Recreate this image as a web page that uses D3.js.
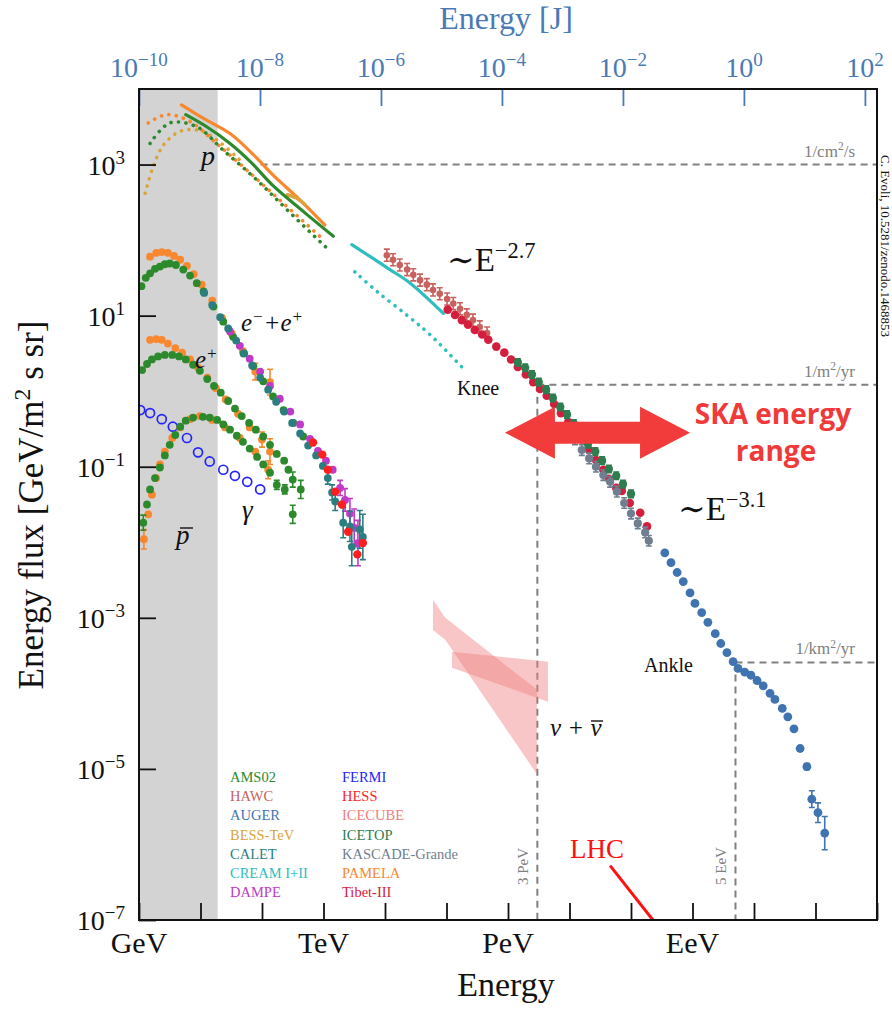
<!DOCTYPE html>
<html>
<head>
<meta charset="utf-8">
<script src="https://cdn.jsdelivr.net/npm/d3@7"></script>
<style>
body { margin: 0; background: #fff; }
text { font-family: "Liberation Serif", "DejaVu Serif", serif; }
</style>
</head>
<body>
<svg id="chart" width="892" height="1014"></svg>
<script>
// every point: [log10(E / GeV), log10(energy flux / GeV m^-2 s^-1 sr^-1), error in dex (optional)]

// protons
var pAMS02 = [[0.76,3.66],[1.10,3.50],[1.48,3.28],[1.81,3.04],[2.18,2.72],[2.67,2.38],[3.16,2.05]]
var pPAMELA = [[0.69,3.79],[1.05,3.61],[1.48,3.41],[1.86,3.13],[2.18,2.86],[2.62,2.53],[3.02,2.20]]
var pBESS = [[2.41,2.60],[2.55,2.56],[2.70,2.47]]
var pDotAMS02 = [[0.18,3.28],[0.50,3.55],[0.94,3.50],[1.37,3.19],[1.91,2.80],[2.46,2.36],[3.11,1.85]]
var pDotPAMELA = [[0.15,3.55],[0.45,3.66],[0.83,3.57],[1.26,3.28],[1.75,2.93],[2.29,2.53],[2.94,2.05]]
var pDotBESS = [[0.10,2.62],[0.23,2.97],[0.40,3.26],[0.67,3.44],[0.99,3.45],[1.26,3.33],[1.64,3.06]]
var creamSolid = [[3.46,1.94],[4.08,1.61],[4.41,1.43],[4.95,1.03]]
var creamDotted = [[3.51,1.58],[3.87,1.32],[4.35,1.01],[4.73,0.75],[5.25,0.32]]

// electrons + positrons
var eAllAMS02 = [[0.04,1.39],[0.11,1.50],[0.18,1.56],[0.26,1.62],[0.34,1.65],[0.42,1.68],[0.50,1.69],[0.60,1.67],[0.72,1.61],[0.83,1.53],[0.94,1.43],[1.05,1.32],[1.21,1.12],[1.37,0.92],[1.53,0.72],[1.70,0.50],[1.86,0.33],[2.02,0.13],[2.18,-0.07],[2.35,-0.25],[2.51,-0.42],[2.67,-0.60]]
var eAllPAMELA = [[0.18,1.78],[0.28,1.83],[0.37,1.84],[0.47,1.83],[0.57,1.79],[0.67,1.74],[0.78,1.66],[0.89,1.55],[1.02,1.41],[1.19,1.20],[1.35,0.97],[1.51,0.76],[1.69,0.53],[1.89,0.26,0.11],[2.13,0.12,0.17]]
var eAllCALET = [[1.06,1.30],[1.19,1.14],[1.32,0.98],[1.45,0.83],[1.58,0.67],[1.71,0.50],[1.84,0.34],[1.97,0.18],[2.10,0.02],[2.23,-0.14],[2.36,-0.27],[2.49,-0.42],[2.62,-0.56],[2.75,-0.72],[2.88,-0.85],[2.99,-0.99],[3.07,-1.15,0.08],[3.14,-1.34,0.1],[3.19,-1.46,0.12],[3.32,-1.74,0.2],[3.43,-1.79,0.2],[3.46,-2.06,0.25],[3.59,-1.83,0.25],[3.64,-1.93,0.3]]
var eAllDAMPE = [[1.48,0.79],[1.64,0.60],[1.80,0.43],[1.97,0.26],[2.13,0.07],[2.29,-0.10],[2.46,-0.27],[2.62,-0.44],[2.78,-0.63],[2.91,-0.79],[3.04,-0.92],[3.15,-1.04],[3.27,-1.28,0.1],[3.35,-1.44,0.15],[3.43,-1.62,0.2],[3.50,-1.81,0.25],[3.56,-2.01,0.3]]
var eAllHESS = [[2.83,-0.68],[2.98,-0.84],[3.07,-1.04],[3.19,-1.33],[3.30,-1.50],[3.40,-1.86],[3.55,-2.16],[3.64,-2.01]]

// positrons
var ePosAMS02 = [[0.05,0.28],[0.13,0.36],[0.21,0.42],[0.31,0.46],[0.42,0.48],[0.54,0.48],[0.65,0.46],[0.76,0.42],[0.88,0.35],[0.99,0.27],[1.11,0.16],[1.22,0.07],[1.33,-0.02],[1.45,-0.13],[1.56,-0.23],[1.67,-0.33],[1.79,-0.42],[1.90,-0.51],[2.02,-0.60],[2.13,-0.71],[2.24,-0.83],[2.36,-0.92],[2.43,-1.04],[2.50,-1.17,0.1],[2.63,-1.30,0.12]]
var ePosPAMELA = [[0.18,0.68],[0.28,0.69],[0.37,0.68],[0.47,0.63],[0.59,0.57],[0.70,0.51],[0.83,0.42],[0.96,0.31],[1.11,0.18],[1.25,0.04],[1.41,-0.11],[1.61,-0.30],[1.80,-0.48],[2.00,-0.64,0.1],[2.13,-0.80,0.17]]

// antiprotons
var pbarAMS02 = [[0.07,-1.74,0.1],[0.13,-1.50],[0.18,-1.30],[0.26,-1.15],[0.34,-1.01],[0.42,-0.85],[0.50,-0.71],[0.59,-0.58],[0.67,-0.47],[0.76,-0.39],[0.88,-0.35],[1.04,-0.34],[1.15,-0.35],[1.27,-0.38],[1.37,-0.44],[1.48,-0.51],[1.59,-0.59],[1.69,-0.67],[1.80,-0.76],[1.92,-0.87],[2.02,-0.97],[2.13,-1.08],[2.24,-1.24,0.06],[2.37,-1.30,0.06],[2.50,-1.63,0.12]]
var pbarPAMELA = [[0.08,-1.96,0.13],[0.15,-1.63],[0.21,-1.37],[0.28,-1.15],[0.34,-0.97],[0.42,-0.80],[0.54,-0.62],[0.67,-0.48],[0.83,-0.37],[0.99,-0.33],[1.19,-0.38],[1.40,-0.48],[1.64,-0.62],[1.89,-0.80],[2.10,-1.04,0.12]]

// diffuse gamma rays
var gammaFERMI = [[0.02,-0.25],[0.18,-0.29],[0.37,-0.37],[0.55,-0.47],[0.78,-0.62],[0.96,-0.81],[1.15,-0.93],[1.37,-1.04],[1.56,-1.12],[1.76,-1.20],[1.97,-1.30]]

// all-particle spectrum
var allHAWC = [[4.03,1.80],[4.13,1.74],[4.24,1.67],[4.36,1.61],[4.46,1.54],[4.57,1.47],[4.68,1.41],[4.78,1.34],[4.89,1.29],[5.01,1.22],[5.11,1.16],[5.22,1.09],[5.33,1.01],[5.43,0.94],[5.54,0.85],[5.66,0.77]]
var allTibet = [[5.02,1.08],[5.14,1.01],[5.25,0.94],[5.35,0.88],[5.46,0.81],[5.58,0.75],[5.68,0.68],[5.81,0.59],[5.94,0.51],[6.05,0.42],[6.16,0.32],[6.29,0.22],[6.41,0.12],[6.52,0.03],[6.63,-0.06],[6.75,-0.17],[6.86,-0.29],[6.98,-0.41],[7.09,-0.52],[7.20,-0.64],[7.32,-0.78],[7.43,-0.91],[7.55,-1.04],[7.64,-1.16],[7.76,-1.28],[7.85,-1.32],[7.98,-1.48],[8.15,-1.61],[8.26,-1.79]]
var allICETOP = [[6.16,0.38],[6.28,0.31],[6.39,0.22],[6.50,0.12],[6.62,0.02],[6.73,-0.09],[6.85,-0.21],[6.96,-0.31],[7.07,-0.43],[7.19,-0.58],[7.30,-0.70],[7.42,-0.80],[7.53,-0.92],[7.64,-1.03],[7.76,-1.12],[7.87,-1.23],[8.00,-1.36]]
var allKASCADE = [[7.09,-0.64],[7.20,-0.78],[7.32,-0.89],[7.43,-1.00],[7.55,-1.11],[7.66,-1.20],[7.77,-1.33],[7.89,-1.48],[8.00,-1.62],[8.11,-1.75],[8.23,-1.87],[8.29,-1.98]]
var allAUGER = [[8.55,-2.14],[8.65,-2.27],[8.75,-2.40],[8.85,-2.52],[8.96,-2.67],[9.04,-2.81],[9.15,-2.93],[9.25,-3.06],[9.37,-3.21],[9.46,-3.34],[9.56,-3.46],[9.66,-3.58],[9.74,-3.67],[9.85,-3.72],[9.95,-3.76],[10.05,-3.83],[10.15,-3.90],[10.26,-4.00],[10.34,-4.08],[10.46,-4.20],[10.55,-4.31],[10.65,-4.47],[10.75,-4.73],[10.86,-4.97,0.04],[10.94,-5.40,0.11],[11.04,-5.58,0.13],[11.15,-5.85,0.22]]

// neutrino bands (polygon outlines)
var nuICECUBE1 = [[4.78,-2.76],[4.98,-3.00],[6.47,-3.95],[6.47,-5.07],[4.98,-3.29],[4.78,-3.16]]
var nuICECUBE2 = [[5.09,-3.45],[6.65,-3.58],[6.65,-4.11],[5.09,-3.66]]

// LHC equivalent energy line
var lhcLine = [[7.66,-6.28],[8.54,-7.19]]

// markers
var solarBand = [1, 19] // GeV
var refLines = [
  { E: 95, F: 1e3, unit: ['1/cm', '2', '/s'] },
  { E: 3e6, F: Math.pow(10, 0.085), unit: ['1/m', '2', '/yr'], tag: '3 PeV' },
  { E: 5e9, F: Math.pow(10, -3.59), unit: ['1/km', '2', '/yr'], tag: '5 EeV' }
]
var skaRange = [Math.pow(10, 5.95), Math.pow(10, 8.96)] // GeV

// axes
var xTicks = d3.range(0, 13).map(function (k) { return Math.pow(10, k) })
var xNamed = [[1, 'GeV'], [1e3, 'TeV'], [1e6, 'PeV'], [1e9, 'EeV']]
var jTicks = [-10, -8, -6, -4, -2, 0, 2]
var yTicks = [3, 1, -1, -3, -5, -7]

var legendLeft = ['AMS02', 'HAWC', 'AUGER', 'BESS-TeV', 'CALET', 'CREAM I+II', 'DAMPE']
var legendRight = ['FERMI', 'HESS', 'ICECUBE', 'ICETOP', 'KASCADE-Grande', 'PAMELA', 'Tibet-III']

var colors = {
  'AMS02': '#2c8a2c', 'HAWC': '#c8625f', 'AUGER': '#3f74b0', 'BESS-TeV': '#d9a43c',
  'CALET': '#2a7e7f', 'CREAM I+II': '#30bdbd', 'DAMPE': '#c03ac8', 'FERMI': '#2424ff',
  'HESS': '#ff1f1f', 'ICECUBE': '#f08080', 'ICETOP': '#2e7d4f', 'KASCADE-Grande': '#6f7f8f',
  'PAMELA': '#f7882f', 'Tibet-III': '#d41e3e'
}

var svg = d3.select('#chart')
var L = 139, R = 877, T = 89, B = 920
var blue = '#4a7ab5', gray = '#808080'

var x = d3.scaleLog().domain([1, 1e12]).range([L, R])
var xJ = d3.scaleLog().domain([1e-10, Math.pow(10, 2.2)]).range([L, R])
var y = d3.scaleLog().domain([1e-7, 1e4]).range([B, T])

function X(d) { return x(Math.pow(10, d[0])) }
function Y(d) { return y(Math.pow(10, d[1])) }

svg.append('clipPath').attr('id', 'clip')
  .append('rect').attr('x', L).attr('y', T).attr('width', R - L).attr('height', B - T)

// grey band
svg.append('rect')
  .attr('x', x(solarBand[0])).attr('y', T)
  .attr('width', x(solarBand[1]) - x(solarBand[0])).attr('height', B - T)
  .attr('fill', '#d3d3d3')

var plot = svg.append('g').attr('clip-path', 'url(#clip)')

function rich(sel, parts, size) {
  parts.forEach(function (p, i) {
    var t = sel.append('tspan').text(p)
    if (i % 2 == 1) t.style('font-size', (size * 0.68) + 'px').attr('dy', -size * 0.38)
    else if (i > 0) t.attr('dy', size * 0.38)
  })
  return sel
}

// reference dashed lines
refLines.forEach(function (r) {
  var px = x(r.E), py = y(r.F)
  plot.append('line').attr('x1', px).attr('x2', R).attr('y1', py).attr('y2', py)
    .attr('stroke', gray).attr('stroke-width', 2).attr('stroke-dasharray', '7,5')
  if (r.tag) {
    plot.append('line').attr('x1', px).attr('x2', px).attr('y1', py).attr('y2', B)
      .attr('stroke', gray).attr('stroke-width', 2).attr('stroke-dasharray', '7,5')
    svg.append('text').attr('transform', 'translate(' + (px - 9) + ',885) rotate(-90)')
      .attr('fill', gray).style('font-size', '15px').text(r.tag)
  }
  rich(svg.append('text').attr('x', 855).attr('y', py - 8).attr('text-anchor', 'end')
    .attr('fill', gray).style('font-size', '17px'), r.unit, 17)
})

// neutrinos
;[nuICECUBE1, nuICECUBE2].forEach(function (poly) {
  plot.append('path').attr('d', 'M' + poly.map(function (d) { return X(d) + ',' + Y(d) }).join('L') + 'Z')
    .attr('fill', colors['ICECUBE']).attr('fill-opacity', 0.45)
})

var line = d3.line().x(X).y(Y).curve(d3.curveCatmullRom)

function solid(data, color, w) {
  plot.append('path').datum(data).attr('d', line).attr('fill', 'none')
    .attr('stroke', color).attr('stroke-width', w || 3.2).attr('stroke-linecap', 'round')
}
function dotted(data, color) {
  plot.append('path').datum(data).attr('d', line).attr('fill', 'none')
    .attr('stroke', color).attr('stroke-width', 3.6).attr('stroke-linecap', 'round')
    .attr('stroke-dasharray', '0.1 7.4')
}
function points(data, color, opt) {
  opt = opt || {}
  var g = plot.append('g')
  function e(d) { return d.length > 2 ? d[2] : (opt.err || 0) }
  g.selectAll('path').data(data.filter(function (d) { return e(d) > 0 })).enter().append('path')
    .attr('d', function (d) {
      var cx = X(d), y1 = y(Math.pow(10, d[1] + e(d))), y2 = y(Math.pow(10, d[1] - e(d))), c = 3
      return 'M' + cx + ',' + y1 + 'V' + y2 + 'M' + (cx - c) + ',' + y1 + 'h' + 2 * c +
        'M' + (cx - c) + ',' + y2 + 'h' + 2 * c
    })
    .attr('stroke', color).attr('stroke-width', 1.6).attr('fill', 'none')
  g.selectAll('circle').data(data).enter().append('circle')
    .attr('cx', X).attr('cy', Y).attr('r', opt.r || 3.9)
    .attr('fill', opt.open ? 'none' : color)
    .attr('stroke', color).attr('stroke-width', opt.open ? 1.7 : 0)
}

// protons
dotted(pDotBESS, colors['BESS-TeV'])
dotted(pDotPAMELA, colors['PAMELA'])
dotted(pDotAMS02, colors['AMS02'])
solid(pPAMELA, colors['PAMELA'])
solid(pBESS, colors['BESS-TeV'], 3.4)
solid(pAMS02, colors['AMS02'])
solid(creamSolid, colors['CREAM I+II'])
dotted(creamDotted, colors['CREAM I+II'])

// leptons, antiprotons, gammas
points(gammaFERMI, colors['FERMI'], { open: true, r: 4.5 })
points(pbarPAMELA, colors['PAMELA'])
points(pbarAMS02, colors['AMS02'])
points(ePosPAMELA, colors['PAMELA'])
points(ePosAMS02, colors['AMS02'])
points(eAllPAMELA, colors['PAMELA'])
points(eAllAMS02, colors['AMS02'])
points(eAllDAMPE, colors['DAMPE'])
points(eAllCALET, colors['CALET'])
points(eAllHESS, colors['HESS'], { r: 4.2 })

// all-particle
points(allHAWC, colors['HAWC'], { r: 3.3, err: 0.08 })
points(allTibet, colors['Tibet-III'], { r: 4.3 })
points(allKASCADE, colors['KASCADE-Grande'], { r: 4.1, err: 0.07 })
points(allICETOP, colors['ICETOP'], { r: 4.1, err: 0.05 })
points(allAUGER, colors['AUGER'], { r: 4.4 })

// LHC
plot.append('path').datum(lhcLine).attr('d', d3.line().x(X).y(Y))
  .attr('stroke', '#ff1010').attr('stroke-width', 3).attr('fill', 'none')

// SKA arrow
var ax1 = x(skaRange[0]), ax2 = x(skaRange[1]), ay = y(Math.pow(10, -0.55))
var hl = 50, hh = 26, sh = 11
svg.append('path').attr('fill', '#f23b3b').attr('d',
  'M' + ax1 + ',' + ay + 'L' + (ax1 + hl) + ',' + (ay - hh) + 'V' + (ay - sh) + 'H' + (ax2 - hl) +
  'V' + (ay - hh) + 'L' + ax2 + ',' + ay + 'L' + (ax2 - hl) + ',' + (ay + hh) + 'V' + (ay + sh) +
  'H' + (ax1 + hl) + 'V' + (ay + hh) + 'Z')
svg.append('text').attr('x', 773).attr('y', 424).attr('text-anchor', 'middle')
  .attr('fill', '#f03a3a').style('font-family', '"Open Sans", sans-serif')
  .style('font-weight', 'bold').style('font-size', '28px').text('SKA energy')
svg.append('text').attr('x', 776).attr('y', 461).attr('text-anchor', 'middle')
  .attr('fill', '#f03a3a').style('font-family', '"Open Sans", sans-serif')
  .style('font-weight', 'bold').style('font-size', '28px').text('range')

// annotations
function label(tx, ty, size, parts, opt) {
  opt = opt || {}
  var t = svg.append('text').attr('x', tx).attr('y', ty).style('font-size', size + 'px')
    .attr('fill', opt.color || '#111').attr('text-anchor', opt.anchor || 'start')
  if (opt.italic) t.style('font-style', 'italic')
  return rich(t, parts, size)
}
label(201, 165, 28, ['p'], { italic: true })
label(241, 331, 25, ['e', '\u2212', '+e', '+'], { italic: true })
label(195, 368, 25, ['e', '+'], { italic: true })
label(242, 519, 27, ['\u03b3'], { italic: true })
label(176, 544, 27, ['p'], { italic: true })
svg.append('line').attr('x1', 180).attr('x2', 193).attr('y1', 528).attr('y2', 528).attr('stroke', '#111').attr('stroke-width', 1.4)
label(550, 736, 25, ['\u03bd + \u03bd'], { italic: true })
svg.append('line').attr('x1', 591).attr('x2', 603).attr('y1', 721).attr('y2', 721).attr('stroke', '#111').attr('stroke-width', 1.4)
label(457, 395, 20, ['Knee'])
label(693, 672, 20, ['Ankle'], { anchor: 'end' })
label(570, 858, 27, ['LHC'], { color: '#ff1010' })
label(447, 271, 33, ['\u223cE', '\u22122.7'])
label(678, 520, 33, ['\u223cE', '\u22123.1'])

// legend
;[legendLeft, legendRight].forEach(function (col, ci) {
  svg.selectAll(null).data(col).enter().append('text')
    .attr('x', ci ? 342 : 230).attr('y', function (d, i) { return 782 + i * 19.2 })
    .attr('fill', function (d) { return colors[d] }).style('font-size', '14.5px')
    .text(function (d) { return d })
})

// axes ticks
var gb = svg.append('g').attr('transform', 'translate(0,' + B + ')')
  .call(d3.axisBottom(x).tickValues(xTicks).tickSize(-17).tickFormat(''))
var gt = svg.append('g').attr('transform', 'translate(0,' + T + ')')
  .call(d3.axisTop(xJ).tickValues(jTicks.map(function (k) { return Math.pow(10, k) })).tickSize(-17).tickFormat(''))
var gl = svg.append('g').attr('transform', 'translate(' + L + ',0)')
  .call(d3.axisLeft(y).tickValues(yTicks.map(function (k) { return Math.pow(10, k) })).tickSize(-17).tickFormat(''))
;[gb, gt, gl].forEach(function (g) { g.select('.domain').remove(); g.selectAll('line').attr('stroke-width', 1.8) })
gb.selectAll('line').attr('stroke', '#111')
gl.selectAll('line').attr('stroke', '#111')
gt.selectAll('line').attr('stroke', blue)

svg.append('rect').attr('x', L).attr('y', T).attr('width', R - L).attr('height', B - T)
  .attr('fill', 'none').attr('stroke', '#111').attr('stroke-width', 2)

function exp(k) { return k < 0 ? '\u2212' + (-k) : '' + k }

xNamed.forEach(function (d) {
  svg.append('text').attr('x', x(d[0])).attr('y', 953).attr('text-anchor', 'middle')
    .style('font-size', '30px').attr('fill', '#111').text(d[1])
})
jTicks.forEach(function (k) {
  rich(svg.append('text').attr('x', xJ(Math.pow(10, k))).attr('y', 77).attr('text-anchor', 'middle')
    .attr('fill', blue).style('font-size', '28px'), ['10', exp(k)], 28)
})
yTicks.forEach(function (k) {
  rich(svg.append('text').attr('x', 125).attr('y', y(Math.pow(10, k)) + 10).attr('text-anchor', 'end')
    .attr('fill', '#111').style('font-size', '28px'), ['10', exp(k)], 28)
})

// titles
svg.append('text').attr('x', 506).attr('y', 29).attr('text-anchor', 'middle')
  .attr('fill', blue).style('font-size', '32px').text('Energy [J]')
svg.append('text').attr('x', 506).attr('y', 996).attr('text-anchor', 'middle')
  .attr('fill', '#111').style('font-size', '34px').text('Energy')
rich(svg.append('text').attr('transform', 'translate(43,505) rotate(-90)').attr('text-anchor', 'middle')
  .attr('fill', '#111').style('font-size', '35px'), ['Energy flux [GeV/m', '2', ' s sr]'], 35)
svg.append('text').attr('transform', 'translate(881,155) rotate(90)')
  .attr('fill', '#111').style('font-size', '13px').text('C. Evoli, 10.5281/zenodo.1468853')
</script>
</body>
</html>
